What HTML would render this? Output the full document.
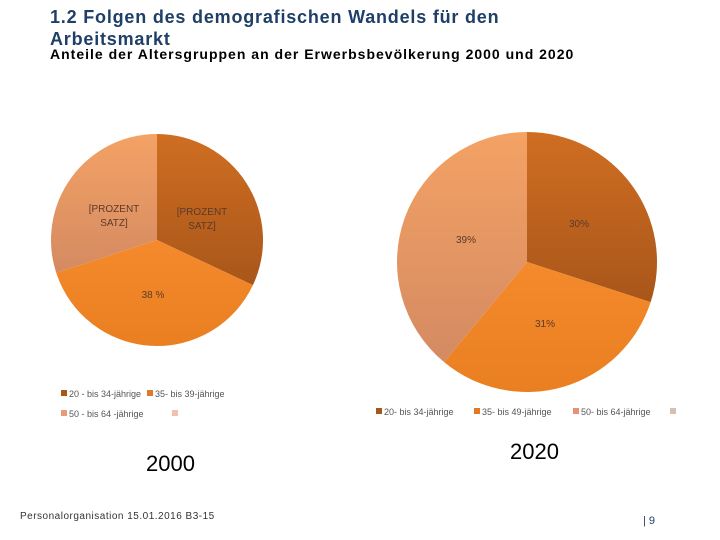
<!DOCTYPE html>
<html><head><meta charset="utf-8"><style>
body{margin:0;width:720px;height:540px;background:#fff;overflow:hidden;position:relative;font-family:"Liberation Sans",sans-serif}
.t{position:absolute;left:50px;top:6px;color:#1f3f66;font-weight:bold;font-size:18px;line-height:22px;letter-spacing:0.8px}
.s{position:absolute;left:50px;top:46px;font-weight:bold;font-size:14px;color:#000;letter-spacing:1px}
</style></head><body>
<div class="t">1.2 Folgen des demografischen Wandels für den<br>Arbeitsmarkt</div>
<div class="s">Anteile der Altersgruppen an der Erwerbsbevölkerung 2000 und 2020</div>
<svg id="c" width="720" height="540" style="position:absolute;left:0;top:0" font-family="Liberation Sans, sans-serif">
<defs>
<linearGradient id="g0" x1="0" y1="0" x2="0" y2="1"><stop offset="0" stop-color="#cf6e22"/><stop offset="1" stop-color="#a9561a"/></linearGradient>
<linearGradient id="g1" x1="0" y1="0" x2="0" y2="1"><stop offset="0" stop-color="#f48a2c"/><stop offset="1" stop-color="#ea7f22"/></linearGradient>
<linearGradient id="g2" x1="0" y1="0" x2="0" y2="1"><stop offset="0" stop-color="#f4a264"/><stop offset="1" stop-color="#d48a62"/></linearGradient>
</defs>
<text x="146" y="471" font-size="22">2000</text>
<text x="510" y="459" font-size="22">2020</text>
<text x="20" y="519" font-size="10" letter-spacing="0.5" fill="#333">Personalorganisation 15.01.2016 B3-15</text>
<text x="643" y="524" font-size="11" fill="#1f3f66">| 9</text>
</svg>
<script>
const values2000=[32,38,30];
const values2020=[30,31,39];
const labels2000=["[PROZENT|SATZ]","38 %","[PROZENT|SATZ]"];
const labels2020=["30%","31%","39%"];
const svg=document.getElementById('c');
const NS='http://www.w3.org/2000/svg';
function pie(vals,labs,cx,cy,r,name,lpos){
  const tot=vals.reduce((a,b)=>a+b,0);let a=0;
  vals.forEach((v,i)=>{
    const a0=a/tot*2*Math.PI,a1=(a+v)/tot*2*Math.PI;a+=v;
    const x0=cx+r*Math.sin(a0),y0=cy-r*Math.cos(a0),x1=cx+r*Math.sin(a1),y1=cy-r*Math.cos(a1);
    const p=document.createElementNS(NS,'path');
    p.setAttribute('d',`M${cx},${cy}L${x0},${y0}A${r},${r} 0 ${a1-a0>Math.PI?1:0} 1 ${x1},${y1}Z`);
    p.setAttribute('fill',`url(#g${i})`);
    
    
    svg.appendChild(p);
    const [lx,ly]=lpos[i];
    labs[i].split('|').forEach((ln,k)=>{
      const t=document.createElementNS(NS,'text');
      t.setAttribute('x',lx);t.setAttribute('y',ly+k*14);
      t.setAttribute('font-size','10');t.setAttribute('fill','#5a3a2a');t.setAttribute('text-anchor','middle');
      t.textContent=ln;
      
      
      svg.appendChild(t);
    });
  });
}
pie(values2000,labels2000,157,240,106,'pie-2000',[[202,215],[153,298],[114,212]]);
pie(values2020,labels2020,527,262,130,'pie-2020',[[579,227],[545,327],[466,243]]);
function legend(items){
  items.forEach(([lx,ly,txt,col])=>{
    const r=document.createElementNS(NS,'rect');
    r.setAttribute('x',lx);r.setAttribute('y',ly-7);r.setAttribute('width',6);r.setAttribute('height',6);r.setAttribute('fill',col);
    
    
    svg.appendChild(r);
    const t=document.createElementNS(NS,'text');
    t.setAttribute('x',lx+8);t.setAttribute('y',ly);t.setAttribute('font-size','9');t.setAttribute('fill','#555');
    t.textContent=txt;
    
    
    svg.appendChild(t);
  });
}
legend([[61,397,"20 - bis 34-jährige","#a9561a"],[147,397,"35-  bis 39-jährige","#e07a2a"],[61,417,"50 - bis 64 -jährige","#e89a7a"],[172,417,"","#f0c0b0"]]);
legend([[376,415,"20- bis 34-jährige","#a9561a"],[474,415,"35- bis 49-jährige","#e07a2a"],[573,415,"50- bis 64-jährige","#e8907a"],[670,415,"","#d8c0b0"]]);
</script>
</body></html>
